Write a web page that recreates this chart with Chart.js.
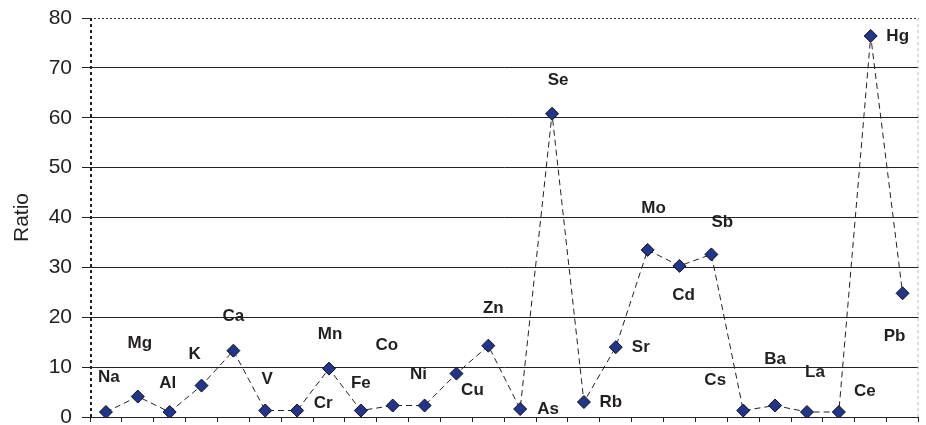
<!DOCTYPE html>
<html>
<head>
<meta charset="utf-8">
<script src="https://cdn.jsdelivr.net/npm/chart.js@4/dist/chart.umd.min.js"></script>
<style>
  html, body { margin: 0; padding: 0; background: #fff; overflow: hidden; }
  canvas { display: block; }
</style>
</head>
<body>
<canvas id="ratioChart" width="926" height="425"></canvas>
<script>

// ======================
// DATA
// ======================

const elements = [
  "Na", "Mg", "Al", "K", "Ca", "V", "Cr", "Mn", "Fe", "Co", "Ni", "Cu", "Zn",
  "As", "Se", "Rb", "Sr", "Mo", "Cd", "Sb", "Cs", "Ba", "La", "Ce", "Hg", "Pb"
];

const ratios = [
  1.0, 4.1, 1.0, 6.3, 13.3, 1.3, 1.3, 9.7, 1.3, 2.3, 2.3, 8.7, 14.3,
  1.6, 60.8, 3.0, 14.0, 33.5, 30.3, 32.6, 1.3, 2.3, 1.0, 1.0, 76.4, 24.8
];

const yTicks = [0, 10, 20, 30, 40, 50, 60, 70, 80];


// ======================
// LABEL OFFSETS (px, from the marker)
// ======================

const labelOffsets = [
  [3, -35], [2, -53], [-2, -29], [-7, -31], [0, -34], [2, -31], [26, -7],
  [1, -34], [0, -27], [-6, -60], [-6, -31], [16, 17], [5, -37], [28, 0],
  [6, -33], [27, 0], [25, 0], [6, -42], [4, 29], [11, -32], [-28, -30],
  [0, -46], [8, -40], [26, -21], [27, 0], [-8, 43]
];


// ======================
// COLORS / FONTS
// ======================

const inkColor = "#231f20";
const markerFill = "#22348c";
const fontFamily = "'Liberation Sans', Arial, sans-serif";


// ======================
// PLUGINS
// ======================

const elementLabels = {

  id: "elementLabels",

  afterDatasetsDraw(chart) {

    const meta = chart.getDatasetMeta(0);
    const ctx = chart.ctx;

    ctx.save();
    ctx.font = "bold 17px " + fontFamily;
    ctx.fillStyle = inkColor;
    ctx.textAlign = "center";
    ctx.textBaseline = "middle";

    meta.data.forEach((point, i) => {
      const off = labelOffsets[i] || [0, -30];
      ctx.fillText(elements[i], point.x + off[0], point.y + off[1]);
    });

    ctx.restore();

  }

};

const frameLines = {

  id: "frameLines",

  beforeDatasetsDraw(chart) {

    const a = chart.chartArea;
    const ctx = chart.ctx;

    ctx.save();

    // top border, dotted
    ctx.strokeStyle = "#333";
    ctx.lineWidth = 1;
    ctx.setLineDash([2, 2]);
    ctx.beginPath();
    ctx.moveTo(a.left, a.top + 0.5);
    ctx.lineTo(a.right, a.top + 0.5);
    ctx.stroke();

    // right border, light dashed
    ctx.strokeStyle = "#bbb";
    ctx.setLineDash([3, 3]);
    ctx.beginPath();
    ctx.moveTo(a.right - 0.5, a.top);
    ctx.lineTo(a.right - 0.5, a.bottom);
    ctx.stroke();

    // left border, heavy dotted
    ctx.strokeStyle = "#222";
    ctx.lineWidth = 2;
    ctx.setLineDash([3, 3]);
    ctx.beginPath();
    ctx.moveTo(a.left + 1, a.top);
    ctx.lineTo(a.left + 1, a.bottom);
    ctx.stroke();

    ctx.restore();

  }

};


// ======================
// CHART
// ======================

const canvas = document.getElementById("ratioChart");

new Chart(canvas, {

  type: "line",

  data: {

    labels: elements,

    datasets: [
      {
        label: "Ratio",
        data: ratios,
        borderColor: "#222",
        borderWidth: 1,
        borderDash: [6, 4],
        tension: 0,
        fill: false,
        pointStyle: "rectRot",
        pointRadius: 6.5,
        pointBackgroundColor: markerFill,
        pointBorderColor: "#111",
        pointBorderWidth: 1
      }
    ]

  },

  options: {

    responsive: false,
    animation: false,
    devicePixelRatio: 1,

    layout: {
      padding: { top: 18, right: 1, bottom: 0, left: 0 }
    },

    plugins: {
      legend: { display: false },
      tooltip: { enabled: false }
    },

    scales: {

      x: {
        offset: true,
        afterFit(scale) { scale.height = 8; },
        ticks: { display: false },
        grid: {
          offset: true,
          drawOnChartArea: false,
          drawTicks: true,
          tickLength: 5,
          color: "#222"
        },
        border: { display: true, color: "#222", width: 1 }
      },

      y: {
        min: 0,
        max: 80,
        afterFit(scale) {
          scale.width = 90;
          scale.paddingTop = 0;
          scale.paddingBottom = 0;
        },
        afterBuildTicks(scale) {
          scale.ticks = yTicks.map(v => ({ value: v }));
        },
        ticks: {
          color: inkColor,
          padding: 10,
          font: { family: fontFamily, size: 21 }
        },
        grid: {
          color: ctx => (ctx.tick && (ctx.tick.value === 80 || ctx.tick.value === 0)) ? "rgba(0,0,0,0)" : "#222",
          tickColor: "#222",
          lineWidth: 1,
          tickLength: 8
        },
        border: { display: false },
        title: {
          display: true,
          text: "Ratio",
          color: inkColor,
          padding: { top: 10, bottom: 0 },
          font: { family: fontFamily, size: 21 }
        }
      }

    }

  },

  plugins: [frameLines, elementLabels]

});
</script>
</body>
</html>
